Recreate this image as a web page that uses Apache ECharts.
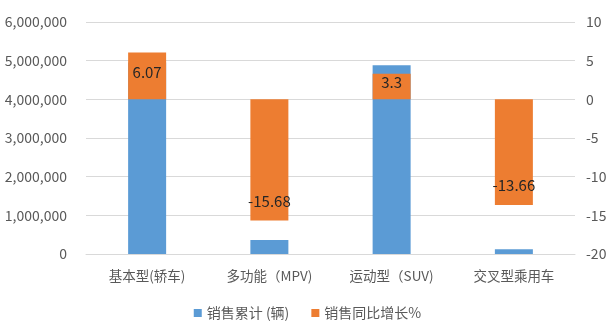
<!DOCTYPE html>
<html>
<head>
<meta charset="utf-8">
<script src="https://cdn.jsdelivr.net/npm/echarts@6/dist/echarts.min.js"></script>
<style>
  html, body { margin: 0; padding: 0; background: #fff; }
  #chart { width: 615px; height: 328px; }
</style>
</head>
<body>
<div id="chart"></div>
<script>
// Vehicle categories
const categories = ['基本型(轿车)', '多功能（MPV)', '运动型（SUV)', '交叉型乘用车'];
// Cumulative sales (vehicles)
const salesTotal = [4950000, 360000, 4880000, 120000];
// Year-on-year growth (%)
const salesGrowth = [6.07, -15.68, 3.3, -13.66];

const leftTicks = { min: 0, max: 6000000, interval: 1000000 };
const rightTicks = { min: -20, max: 10, interval: 5 };

const textColor = '#595959';
const font = '"Microsoft YaHei", "Noto Sans CJK SC", "Noto Sans", sans-serif';

const chart = echarts.init(document.getElementById('chart'));

// Growth labels sit just inside the far end of each bar
function growthItem(v, i) {
  const shortBar = Math.abs(v) < 5;
  return {
    value: v,
    label: {
      position: v >= 0 ? 'insideTop' : 'insideBottom',
      distance: shortBar ? 1 : 12
    }
  };
}

chart.setOption({
  animation: false,
  textStyle: { fontFamily: font },
  grid: { left: 86, right: 40, top: 22, bottom: 74 },
  legend: {
    bottom: 3,
    left: 'center',
    itemWidth: 8,
    itemHeight: 8,
    itemGap: 22,
    icon: 'rect',
    textStyle: { color: textColor, fontSize: 14, fontFamily: font },
    data: ['销售累计 (辆)', '销售同比增长%']
  },
  xAxis: {
    type: 'category',
    data: categories,
    axisLine: { show: true, lineStyle: { color: '#D9D9D9' } },
    axisTick: { show: false },
    axisLabel: { color: textColor, fontSize: 13.5, margin: 15, fontFamily: font }
  },
  yAxis: [
    {
      type: 'value',
      min: leftTicks.min, max: leftTicks.max, interval: leftTicks.interval,
      axisLine: { show: false },
      axisTick: { show: false },
      splitLine: { lineStyle: { color: '#D9D9D9' } },
      axisLabel: {
        color: textColor, fontSize: 14, margin: 19, fontFamily: font,
        formatter: v => v.toLocaleString('en-US')
      }
    },
    {
      type: 'value',
      min: rightTicks.min, max: rightTicks.max, interval: rightTicks.interval,
      axisLine: { show: false },
      axisTick: { show: false },
      splitLine: { show: false },
      axisLabel: { color: textColor, fontSize: 14, margin: 11, fontFamily: font }
    }
  ],
  series: [
    {
      name: '销售累计 (辆)',
      type: 'bar',
      yAxisIndex: 0,
      barWidth: 38,
      barGap: '-100%',
      itemStyle: { color: '#5B9BD5' },
      data: salesTotal
    },
    {
      name: '销售同比增长%',
      type: 'bar',
      yAxisIndex: 1,
      barWidth: 38,
      barGap: '-100%',
      itemStyle: { color: '#ED7D31' },
      label: {
        show: true,
        color: '#262626',
        fontSize: 15,
        fontFamily: font
      },
      data: salesGrowth.map(growthItem)
    }
  ]
});
</script>
</body>
</html>
